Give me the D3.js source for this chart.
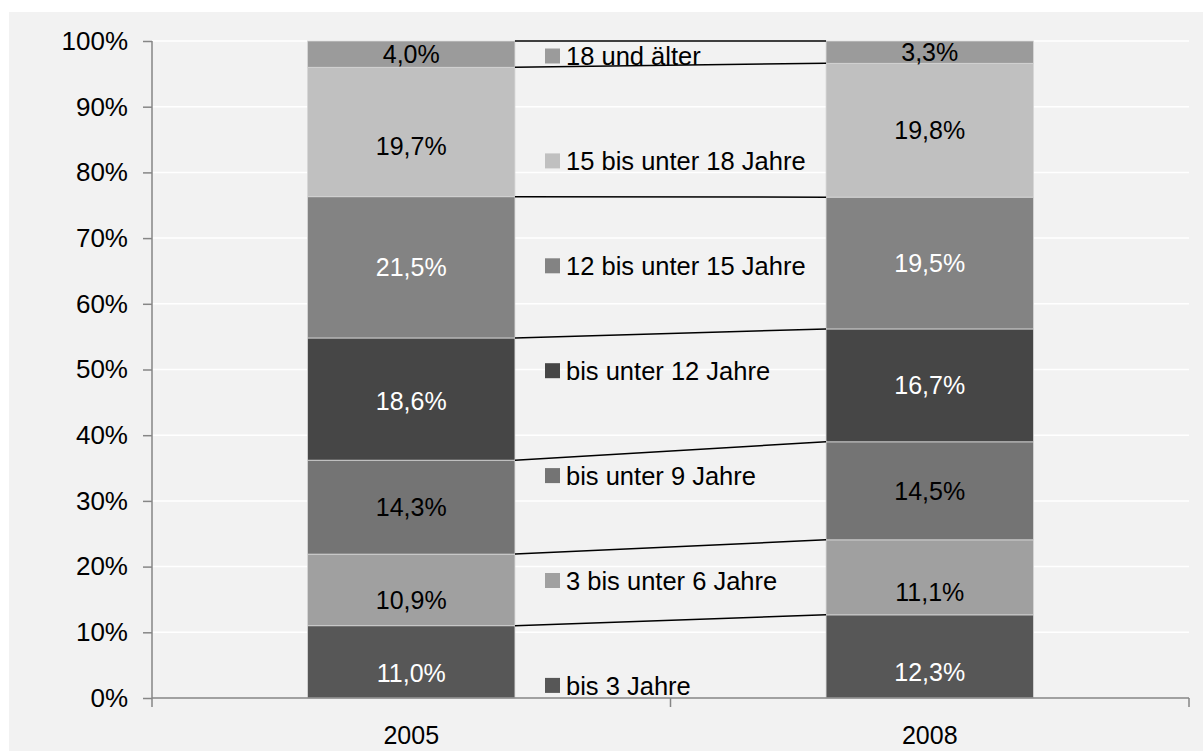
<!DOCTYPE html>
<html><head><meta charset="utf-8">
<script src="https://cdn.jsdelivr.net/npm/d3@7"></script>
<style>html,body{margin:0;padding:0;background:#fff;}svg{display:block;}</style>
</head><body>
<script>
const years = ["2005", "2008"];
const seriesNames = ["bis 3 Jahre", "3 bis unter 6 Jahre", "bis unter 9 Jahre", "bis unter 12 Jahre", "12 bis unter 15 Jahre", "15 bis unter 18 Jahre", "18 und älter"];
const values2005 = [11.0, 10.9, 14.3, 18.6, 21.5, 19.7, 4.0];
const values2008 = [12.3, 11.1, 14.5, 16.7, 19.5, 19.8, 3.3];
const seriesColors = ["#575757", "#a0a0a0", "#747474", "#464646", "#838383", "#c0c0c0", "#9b9b9b"];
const labelColors2005 = ["#fff", "#000", "#000", "#fff", "#fff", "#000", "#000"];
const labelColors2008 = ["#fff", "#000", "#000", "#fff", "#fff", "#000", "#000"];
// manual label nudges (px, downward) as placed in the original
const labelNudge2005 = [11, 10, 0, 2, 0, 14, 0];
const labelNudge2008 = [16, 15, 0, 0, 0, 0, 0];
const yTicks = [0, 0.1, 0.2, 0.3, 0.4, 0.5, 0.6, 0.7, 0.8, 0.9, 1.0];

const W = 1203, H = 751;
const FONT = "'Liberation Sans', Arial, sans-serif";
const svg = d3.select("body").append("svg").attr("width", W).attr("height", H);
svg.append("rect").attr("x", 9).attr("y", 12).attr("width", W - 9).attr("height", H - 12).attr("fill", "#f2f2f2");

const m = {left: 152, right: 1189, top: 41, bottom: 698};
const x = d3.scaleBand().domain(years).range([m.left, m.right]).paddingInner(0.6).paddingOuter(0.3);
const xb = d3.scaleBand().domain(years).range([m.left, m.right]);
const y = d3.scaleLinear().domain([0, 1]).range([m.bottom, m.top]);

const table = years.map((yr, i) => {
  const row = {year: yr};
  const vals = i === 0 ? values2005 : values2008;
  seriesNames.forEach((s, j) => row[s] = vals[j]);
  return row;
});
const stack = d3.stack().keys(seriesNames).offset(d3.stackOffsetExpand);
const stacked = stack(table);

// gridlines
svg.append("g").selectAll("line").data(yTicks.filter(t => t > 0)).join("line")
  .attr("x1", m.left).attr("x2", m.right)
  .attr("y1", d => y(d)).attr("y2", d => y(d))
  .attr("stroke", "#ffffff").attr("stroke-width", 1.5);

// bars
const g = svg.append("g");
stacked.forEach((s, j) => {
  g.selectAll(null).data(s).join("rect")
    .attr("x", d => x(d.data.year))
    .attr("width", x.bandwidth())
    .attr("y", d => y(d[1]))
    .attr("height", d => y(d[0]) - y(d[1]))
    .attr("fill", seriesColors[j])
    .attr("stroke", "#d6d6d6").attr("stroke-width", 0.8);
});

// series lines
stacked.forEach((s) => {
  svg.append("line")
    .attr("x1", x(years[0]) + x.bandwidth()).attr("y1", y(s[0][1]))
    .attr("x2", x(years[1])).attr("y2", y(s[1][1]))
    .attr("stroke", "#000").attr("stroke-width", 1.5);
});

// data labels
stacked.forEach((s, j) => {
  s.forEach((d, i) => {
    const vals = i === 0 ? values2005 : values2008;
    const cols = i === 0 ? labelColors2005 : labelColors2008;
    const nudge = i === 0 ? labelNudge2005 : labelNudge2008;
    svg.append("text")
      .attr("x", x(d.data.year) + x.bandwidth() / 2)
      .attr("y", (y(d[0]) + y(d[1])) / 2 + nudge[j])
      .attr("dy", "0.36em")
      .attr("text-anchor", "middle")
      .attr("font-family", FONT).attr("font-size", 25)
      .attr("fill", cols[j])
      .text(vals[j].toFixed(1).replace(".", ",") + "%");
  });
});

// axes
const axisColor = "#868686";
const yAxis = svg.append("g").attr("transform", `translate(${m.left},0)`)
  .call(d3.axisLeft(y).tickValues(yTicks).tickSize(9).tickPadding(15).tickFormat(d => Math.round(d * 100) + "%"));
yAxis.select(".domain").attr("stroke", axisColor).attr("stroke-width", 1.5).attr("d", `M0,${m.top}V${m.bottom}`);
yAxis.selectAll(".tick line").attr("stroke", axisColor).attr("stroke-width", 1.5);
yAxis.selectAll("text").attr("font-family", FONT).attr("font-size", 26).attr("fill", "#000");

const xAxis = svg.append("g").attr("transform", `translate(0,${m.bottom})`);
xAxis.append("line").attr("x1", m.left).attr("x2", m.right).attr("y1", 0).attr("y2", 0)
  .attr("stroke", axisColor).attr("stroke-width", 1.5);
const bounds = [xb(years[0]), xb(years[1]), xb(years[1]) + xb.bandwidth()];
xAxis.selectAll(".xt").data(bounds).join("line")
  .attr("x1", d => d).attr("x2", d => d).attr("y1", 0).attr("y2", 9)
  .attr("stroke", axisColor).attr("stroke-width", 1.5);
xAxis.selectAll(".xl").data(years).join("text")
  .attr("x", d => x(d) + x.bandwidth() / 2).attr("y", 46)
  .attr("text-anchor", "middle").attr("font-family", FONT).attr("font-size", 25).attr("fill", "#000")
  .text(d => d);

// legend (top to bottom, reversed order)
const legendItems = seriesNames.map((n, j) => ({name: n, color: seriesColors[j]})).reverse();
const lg = svg.append("g");
legendItems.forEach((it, i) => {
  const cy = 56 + i * 104.9;
  lg.append("rect").attr("x", 545).attr("y", cy - 7.5).attr("width", 15).attr("height", 15).attr("fill", it.color);
  lg.append("text").attr("x", 566).attr("y", cy).attr("dy", "0.36em")
    .attr("font-family", FONT).attr("font-size", 25.5).attr("fill", "#000").text(it.name);
});
</script>
</body></html>
